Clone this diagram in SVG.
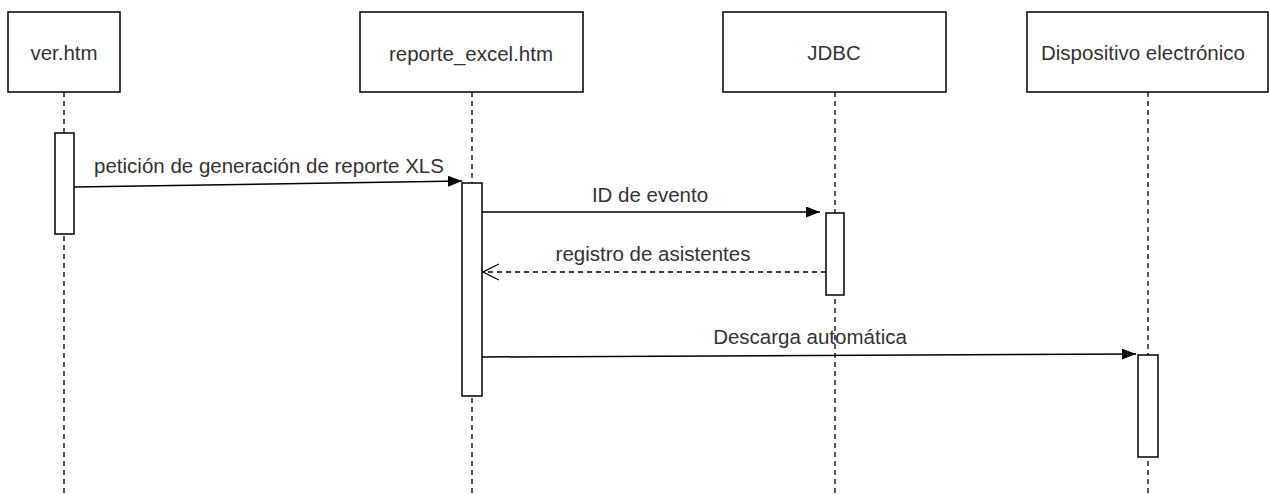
<svg xmlns="http://www.w3.org/2000/svg" width="1269" height="494" viewBox="0 0 1269 494">
<style>
.box{fill:#fff;stroke:#000;stroke-width:1.5}
.act{fill:#fff;stroke:#000;stroke-width:1.5}
.life{stroke:#000;stroke-width:1.3;stroke-dasharray:5 4;fill:none}
.msg{stroke:#000;stroke-width:1.5;fill:none}
.ret{stroke:#000;stroke-width:1.3;stroke-dasharray:5 4;fill:none}
text{font-family:"Liberation Sans",Arial,sans-serif;font-size:20.5px;fill:#333;text-anchor:middle}
</style>
<defs>
<marker id="filled" viewBox="0 0 14 11" refX="14" refY="5.5" markerWidth="14" markerHeight="11" markerUnits="userSpaceOnUse" orient="auto">
<path d="M0,0 L14,5.5 L0,11 Z" fill="#000"/>
</marker>
<marker id="open" viewBox="0 0 18 18" refX="17" refY="9" markerWidth="18" markerHeight="18" markerUnits="userSpaceOnUse" orient="auto">
<path d="M1,1 L17,9 L1,17" fill="none" stroke="#000" stroke-width="1.3"/>
</marker>
</defs>
<g id="lifelines">
<line class="life" x1="64" y1="92" x2="64" y2="494"/>
<line class="life" x1="472" y1="92" x2="472" y2="494"/>
<line class="life" x1="835" y1="92" x2="835" y2="494"/>
<line class="life" x1="1148" y1="92" x2="1148" y2="494"/>
</g>
<g id="node-ver">
<rect class="box" x="8" y="12" width="112" height="80"/>
<text x="64" y="60">ver.htm</text>
<rect class="act" x="55" y="133" width="19" height="101"/>
</g>
<g id="node-reporte">
<rect class="box" x="360" y="12" width="223" height="80"/>
<text x="471" y="61">reporte_excel.htm</text>
<rect class="act" x="462" y="183" width="20" height="213"/>
</g>
<g id="node-jdbc">
<rect class="box" x="723" y="12" width="223" height="80"/>
<text x="834" y="60">JDBC</text>
<rect class="act" x="826" y="213" width="18" height="82"/>
</g>
<g id="node-dispositivo">
<rect class="box" x="1027" y="12" width="241" height="80"/>
<text x="1143" y="60">Dispositivo electrónico</text>
<rect class="act" x="1138" y="355" width="20" height="102"/>
</g>
<g id="connectors">
<line class="msg" x1="74" y1="187" x2="462" y2="181" marker-end="url(#filled)"/>
<text x="269" y="173">petición de generación de reporte XLS</text>
<line class="msg" x1="482" y1="212" x2="820" y2="212" marker-end="url(#filled)"/>
<text x="650" y="202">ID de evento</text>
<line class="ret" x1="826" y1="272" x2="483" y2="272" marker-end="url(#open)"/>
<text x="653" y="261">registro de asistentes</text>
<line class="msg" x1="482" y1="357" x2="1136" y2="354" marker-end="url(#filled)"/>
<text x="810" y="344">Descarga automática</text>
</g>
</svg>
